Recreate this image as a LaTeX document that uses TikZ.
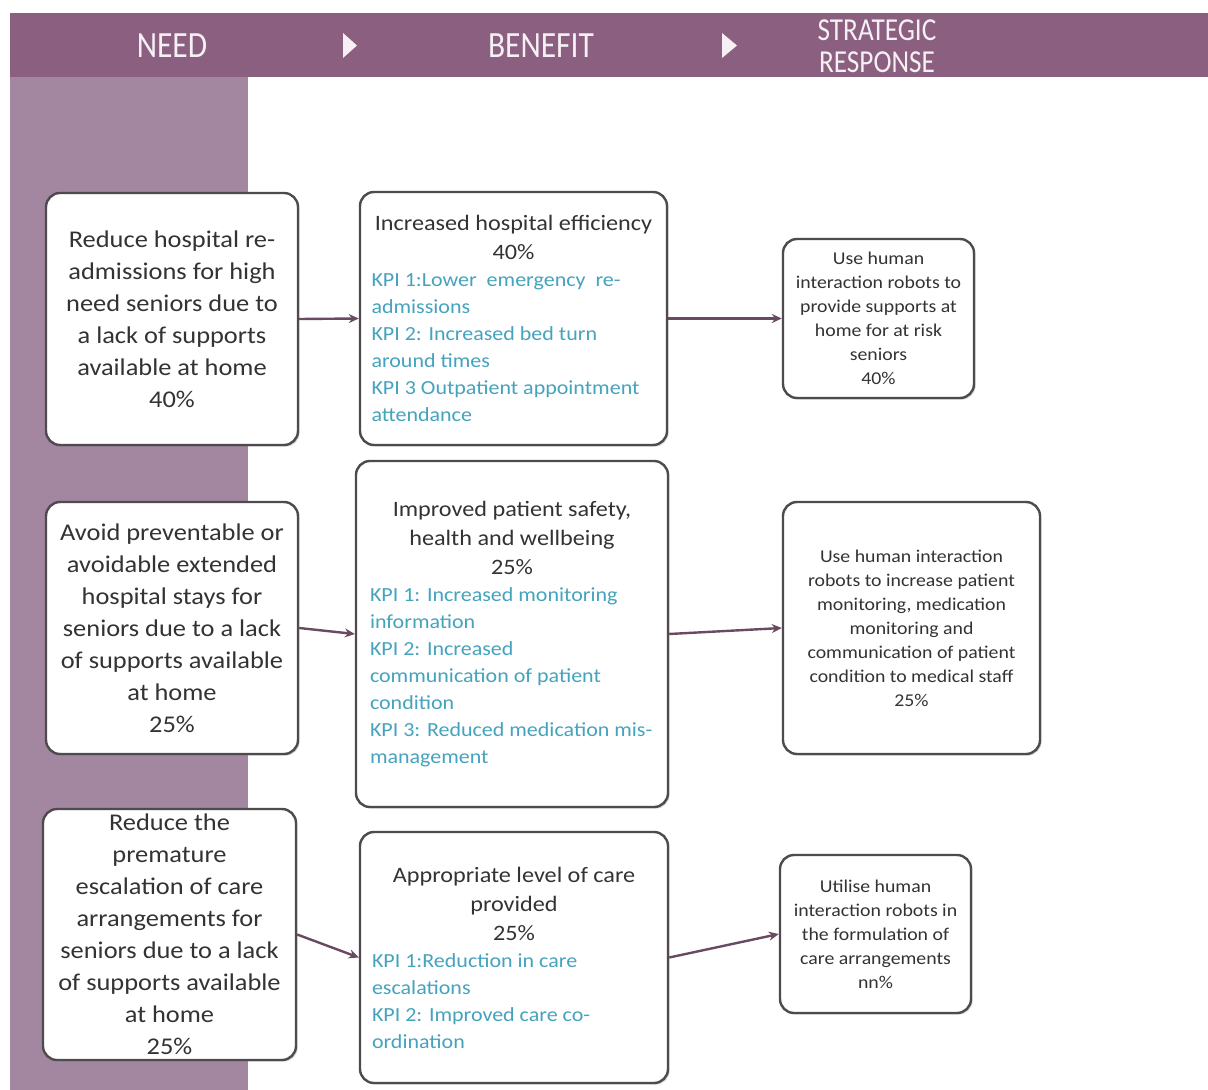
\documentclass[tikz,border=0pt]{standalone}
\usepackage{fontspec}
\usetikzlibrary{arrows.meta,shadows}
\setmainfont{Carlito}
\newfontfamily\bodyfont[FakeStretch=1.1]{Carlito}
\newfontfamily\headfont[FakeStretch=0.85]{Carlito}
\definecolor{headc}{HTML}{8A5F80}
\definecolor{stripc}{HTML}{A386A0}
\definecolor{boxline}{HTML}{4E4A4D}
\definecolor{arrowc}{HTML}{6A4A60}
\definecolor{txt}{HTML}{333333}
\definecolor{kpi}{HTML}{45A3BE}
\definecolor{headtxt}{HTML}{F6F0F4}
\tikzset{
  box/.style={draw=boxline, line width=1.2pt, rounded corners=7pt, fill=white,
    inner sep=0pt, text=txt, drop shadow={shadow xshift=0.8pt, shadow yshift=-0.8pt, opacity=0.35}},
  needbox/.style={box, align=center, font=\bodyfont\fontsize{12}{16}\selectfont},
  benbox/.style={box},
  stratbox/.style={box, align=center, font=\bodyfont\fontsize{9}{12}\selectfont},
  headtext/.style={text=headtxt, align=center, inner sep=0pt},
  conn/.style={draw=arrowc, line width=1.2pt, -{Stealth[length=5pt,width=4.5pt]}}
}
\newcommand{\bentitle}[1]{{\bodyfont\fontsize{11}{14.5}\selectfont\centering #1\par}}
\newcommand{\benkpi}[1]{{\bodyfont\fontsize{10}{13.5}\selectfont\raggedright\color{kpi}#1\par}}
\begin{document}
\begin{tikzpicture}[x=0.5pt,y=-0.5pt]
\useasboundingbox (0,0) rectangle (1208,1090);
% header band and left strip
\fill[headc] (10,13) rectangle (1208,77);
\fill[stripc] (10,77) rectangle (248,1090);
\node[headtext, font=\headfont\fontsize{18.5}{20}\selectfont] (hneed) at (172,46) {NEED};
\node[headtext, font=\headfont\fontsize{18.5}{20}\selectfont] (hben) at (541,46) {BENEFIT};
\node[headtext, font=\headfont\fontsize{16}{16}\selectfont] (hstrat) at (877,46) {STRATEGIC\\RESPONSE};
\fill[headtxt] (343,33) -- (357,45.5) -- (343,58) -- cycle;
\fill[headtxt] (722,33) -- (737,45.5) -- (722,58) -- cycle;

% row 1
\node[needbox, minimum width=126pt, minimum height=126pt] (n1) at (172,319)
  {Reduce hospital re-\\admissions for high\\need seniors due to\\a lack of supports\\available at home\\40\%};
\node[benbox, minimum width=153.5pt, minimum height=126.5pt] (b1) at (513.5,318.5)
  {\begin{minipage}{142pt}\bentitle{Increased hospital efficiency\\40\%}\benkpi{\mbox{KPI 1:Lower\ \ emergency\ \ re-}\\admissions\\KPI 2: Increased bed turn\\around times\\\mbox{KPI 3 Outpatient appointment}\\attendance}\end{minipage}};
\node[stratbox, minimum width=95.5pt, minimum height=79.5pt] (s1) at (878.5,318.5)
  {Use human\\interaction robots to\\provide supports at\\home for at risk\\seniors\\40\%};

% row 2
\node[needbox, minimum width=126pt, minimum height=126pt] (n2) at (172,628)
  {Avoid preventable or\\avoidable extended\\hospital stays for\\seniors due to a lack\\of supports available\\at home\\25\%};
\node[benbox, minimum width=156pt, minimum height=173pt] (b2) at (512,634)
  {\begin{minipage}{142pt}\bentitle{Improved patient safety,\\health and wellbeing\\25\%}\benkpi{\mbox{KPI 1: Increased monitoring}\\information\\KPI 2: Increased\\communication of patient\\condition\\\mbox{KPI 3: Reduced\ medication mis-}\\management}\end{minipage}};
\node[stratbox, minimum width=128.5pt, minimum height=126pt] (s2) at (911.5,628)
  {Use human interaction\\robots to increase patient\\monitoring, medication\\monitoring and\\communication of patient\\condition to medical staff\\25\%};

% row 3
\node[needbox, minimum width=126.5pt, minimum height=125.5pt] (n3) at (169.5,934.5)
  {Reduce the\\premature\\escalation of care\\arrangements for\\seniors due to a lack\\of supports available\\at home\\25\%};
\node[benbox, minimum width=154pt, minimum height=125.5pt] (b3) at (514,957.5)
  {\begin{minipage}{142pt}\bentitle{Appropriate level of care\\provided\\25\%}\benkpi{KPI 1:Reduction in care\\escalations\\KPI 2: Improved care co-\\ordination}\end{minipage}};
\node[stratbox, minimum width=95.5pt, minimum height=79pt] (s3) at (875.5,934)
  {Utilise human\\interaction robots in\\the formulation of\\care arrangements\\nn\%};

% connectors
\draw[conn] (n1.east) -- (b1.west);
\draw[conn] (b1.east) -- (s1.west);
\draw[conn] (n2.east) -- (b2.west);
\draw[conn] (b2.east) -- (s2.west);
\draw[conn] (n3.east) -- (b3.west);
\draw[conn] (b3.east) -- (s3.west);
\end{tikzpicture}
\end{document}
